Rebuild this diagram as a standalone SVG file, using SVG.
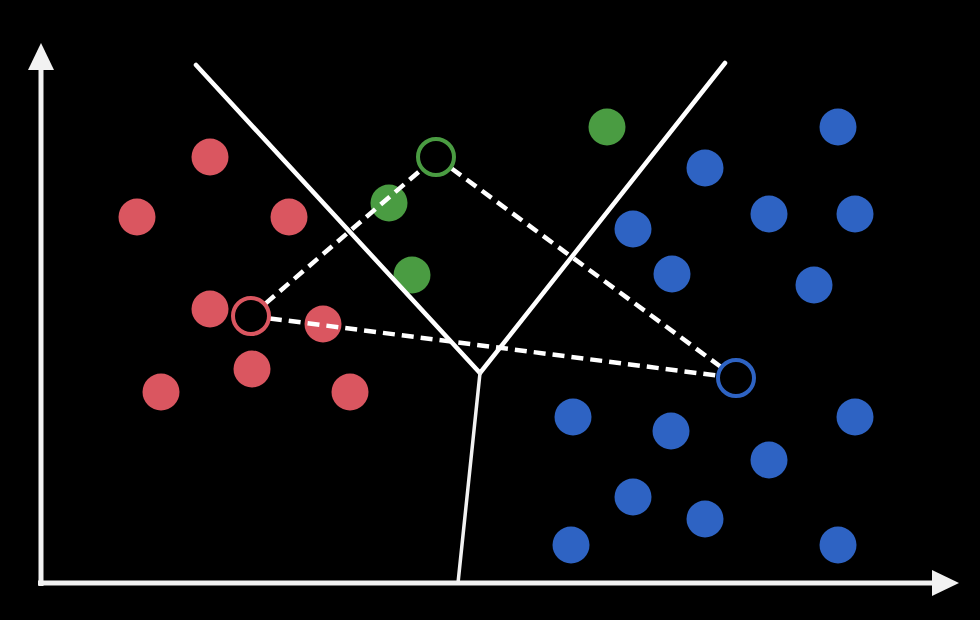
<svg xmlns="http://www.w3.org/2000/svg" width="980" height="620" viewBox="0 0 980 620">
<style>
.r{fill:#da5660}
.g{fill:#4a9c42}
.b{fill:#2e63c3}
.axis{stroke:#f2f2f2;stroke-width:5;fill:none}
.vor{stroke:#ffffff;stroke-width:4.5;fill:none;stroke-linecap:round}
.vor2{stroke:#f2f2f2;stroke-width:3.5;fill:none;stroke-linecap:round}
.dash{stroke:#ffffff;stroke-width:4.5;fill:none;stroke-dasharray:12 7}
.cen{fill:#000000;stroke-width:4}
</style>
<rect x="0" y="0" width="980" height="620" fill="#000000"/>
<g id="axes">
<line class="axis" x1="41" y1="586" x2="41" y2="66"/>
<polygon points="41,43 28,70 54,70" fill="#f2f2f2"/>
<line class="axis" x1="38" y1="583" x2="936" y2="583"/>
<polygon points="959,583 932,570 932,596" fill="#f2f2f2"/>
</g>
<g id="red-points">
<circle class="r" cx="210" cy="157" r="18.5"/>
<circle class="r" cx="137" cy="217" r="18.5"/>
<circle class="r" cx="289" cy="217" r="18.5"/>
<circle class="r" cx="210" cy="309" r="18.5"/>
<circle class="r" cx="323" cy="324" r="18.5"/>
<circle class="r" cx="252" cy="369" r="18.5"/>
<circle class="r" cx="161" cy="392" r="18.5"/>
<circle class="r" cx="350" cy="392" r="18.5"/>
</g>
<g id="green-points">
<circle class="g" cx="389" cy="203" r="18.5"/>
<circle class="g" cx="412" cy="275" r="18.5"/>
<circle class="g" cx="607" cy="127" r="18.5"/>
</g>
<g id="blue-points">
<circle class="b" cx="838" cy="127" r="18.5"/>
<circle class="b" cx="705" cy="168" r="18.5"/>
<circle class="b" cx="769" cy="214" r="18.5"/>
<circle class="b" cx="855" cy="214" r="18.5"/>
<circle class="b" cx="633" cy="229" r="18.5"/>
<circle class="b" cx="672" cy="274" r="18.5"/>
<circle class="b" cx="814" cy="285" r="18.5"/>
<circle class="b" cx="573" cy="417" r="18.5"/>
<circle class="b" cx="671" cy="431" r="18.5"/>
<circle class="b" cx="855" cy="417" r="18.5"/>
<circle class="b" cx="769" cy="460" r="18.5"/>
<circle class="b" cx="633" cy="497" r="18.5"/>
<circle class="b" cx="705" cy="519" r="18.5"/>
<circle class="b" cx="571" cy="545" r="18.5"/>
<circle class="b" cx="838" cy="545" r="18.5"/>
</g>
<g id="boundaries">
<polyline class="vor" points="196,65 480,373 725,63"/>
<line class="vor2" x1="480" y1="373" x2="458" y2="583"/>
</g>
<g id="connectors">
<line class="dash" x1="251" y1="316" x2="436" y2="157"/>
<line class="dash" x1="251" y1="316" x2="736" y2="378"/>
<line class="dash" x1="436" y1="157" x2="736" y2="378"/>
</g>
<g id="centroid-red"><circle class="cen" cx="251" cy="316" r="18" stroke="#da5660"/></g>
<g id="centroid-green"><circle class="cen" cx="436" cy="157" r="18" stroke="#4a9c42"/></g>
<g id="centroid-blue"><circle class="cen" cx="736" cy="378" r="18" stroke="#2e63c3"/></g>
</svg>
